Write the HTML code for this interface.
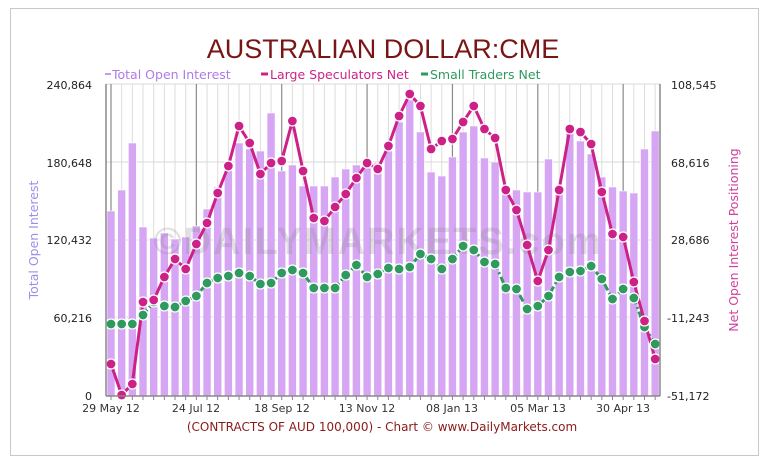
<!DOCTYPE html>
<html><head><meta charset="utf-8"><style>
html,body{margin:0;padding:0;background:#fff;}
svg{display:block;font-family:"DejaVu Sans",Verdana,sans-serif;}
</style></head><body>
<svg id="c" width="774" height="471" viewBox="0 0 774 471" xmlns="http://www.w3.org/2000/svg">
<rect x="0" y="0" width="774" height="471" fill="#fff"/>
<rect x="10.5" y="8.5" width="748" height="447" fill="none" stroke="#c8c8c8"/>
<text x="383" y="58" text-anchor="middle" font-size="27" fill="#7a1515" font-family="Liberation Sans, sans-serif">AUSTRALIAN DOLLAR:CME</text>
<g font-size="12.5">
<line x1="105" y1="74" x2="111" y2="74" stroke="#c79af0" stroke-width="2"/>
<text x="112" y="79" fill="#b07ae8">Total Open Interest</text>
<line x1="261" y1="74" x2="268" y2="74" stroke="#cc2288" stroke-width="3"/>
<text x="270" y="79" fill="#cc2288">Large Speculators Net</text>
<line x1="421" y1="74" x2="428" y2="74" stroke="#2e9a5e" stroke-width="3"/>
<text x="430" y="79" fill="#2e9a5e">Small Traders Net</text>
</g>
<g id="grid"></g>
<g id="bars"></g>
<text x="378" y="254" text-anchor="middle" font-size="38" font-weight="bold" fill="#888" fill-opacity="0.25" font-family="Liberation Sans, sans-serif" letter-spacing="2">©DAILYMARKETS.com</text>
<g id="lines"></g>
<line x1="106" y1="84" x2="106" y2="396" stroke="#888" stroke-width="1.5"/>
<line x1="660" y1="84" x2="660" y2="396" stroke="#888" stroke-width="1.5"/>
<line x1="106" y1="396" x2="660" y2="396" stroke="#888" stroke-width="1.5"/>
<g font-size="11" fill="#222" text-anchor="end">
<text x="92" y="89">240,864</text>
<text x="92" y="167">180,648</text>
<text x="92" y="244">120,432</text>
<text x="92" y="322">60,216</text>
<text x="92" y="400">0</text>
</g>
<g font-size="11" fill="#222" text-anchor="start">
<text x="671" y="89">108,545</text>
<text x="671" y="167">68,616</text>
<text x="671" y="244">28,686</text>
<text x="667" y="322">-11,243</text>
<text x="667" y="400">-51,172</text>
</g>
<g font-size="11" fill="#333" text-anchor="middle">
<text x="111" y="412">29 May 12</text>
<text x="196" y="412">24 Jul 12</text>
<text x="282" y="412">18 Sep 12</text>
<text x="367" y="412">13 Nov 12</text>
<text x="452" y="412">08 Jan 13</text>
<text x="538" y="412">05 Mar 13</text>
<text x="623" y="412">30 Apr 13</text>
</g>
<text transform="translate(38,240) rotate(-90)" text-anchor="middle" font-size="12.5" fill="#9d8fe8">Total Open Interest</text>
<text transform="translate(738,240) rotate(-90)" text-anchor="middle" font-size="12.5" fill="#d0409a">Net Open Interest Positioning</text>
<text x="382" y="431" text-anchor="middle" font-size="12" fill="#8b1a1a">(CONTRACTS OF AUD 100,000)  - Chart © www.DailyMarkets.com</text>
</svg>
<script>
var M=[364,395,384,302,300,277,259,269,244,223,193,166,126,143,174,163,161,121,171,218,221,207,194,178,163,169,146,116,94,106,149,141,139,122,106,129,138,190,210,245,281,250,190,129,132,144,192,234,237,282,321,359];
var G=[324,324,324,315,302,306,307,301,296,283,278,276,273,276,284,283,273,270,273,288,288,288,275,265,277,274,268,269,267,254,259,269,259,246,250,262,264,288,289,309,306,296,277,272,271,266,279,299,289,298,327,344];
var B=[211,190,143,227,238,233,239,237,226,209,187,170,143,149,151,113,171,165,186,186,186,177,169,165,168,163,151,122,100,132,172,176,157,132,126,158,162,187,190,192,192,159,190,127,141,154,177,187,191,193,149,131];
var ns="http://www.w3.org/2000/svg";
function el(t,a,p){var e=document.createElementNS(ns,t);for(var k in a)e.setAttribute(k,a[k]);document.getElementById(p).appendChild(e);return e;}
function X(i){return 111+10.67*i;}
[84,162,240,317].forEach(function(y){el('line',{x1:106,x2:660,y1:y,y2:y,stroke:'#d8d8d8'},'grid');});
for(var i=0;i<52;i++){var lab=(i%8==0);el('line',{x1:X(i),x2:X(i),y1:84,y2:396,stroke:lab?'#8a8a8a':'#dcdcdc','stroke-width':lab?1.2:1},'grid');
el('line',{x1:X(i),x2:X(i),y1:396,y2:400,stroke:'#888'},'grid');}
for(var i=0;i<52;i++){el('rect',{x:X(i)-4,y:B[i],width:8,height:396-B[i],fill:'#d6a6f4',stroke:'#fff','stroke-width':0.6},'bars');}
function pts(a){return a.map(function(v,i){return X(i).toFixed(1)+','+v;}).join(' ');}
el('polyline',{points:pts(G),fill:'none',stroke:'#2e9a5e','stroke-width':3,'stroke-dasharray':'7,3,2,3'},'lines');
el('polyline',{points:pts(M),fill:'none',stroke:'#cc2288','stroke-width':3},'lines');
for(var i=0;i<52;i++)el('circle',{cx:X(i),cy:G[i],r:5,fill:'#2e9a5e',stroke:'#fff','stroke-width':1.3},'lines');
for(var i=0;i<52;i++)el('circle',{cx:X(i),cy:M[i],r:5,fill:'#cc2288',stroke:'#fff','stroke-width':1.3},'lines');
</script>
</body></html>
